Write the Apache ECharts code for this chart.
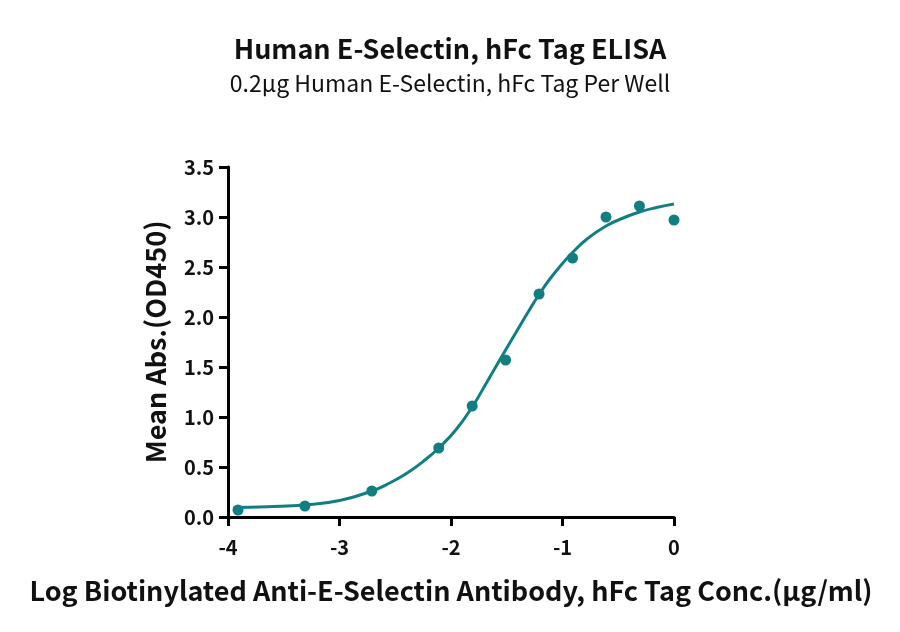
<!DOCTYPE html>
<html>
<head>
<meta charset="utf-8">
<title>Human E-Selectin, hFc Tag ELISA</title>
<script src="https://cdn.jsdelivr.net/npm/echarts@6/dist/echarts.min.js"></script>
<style>
  html, body { margin: 0; padding: 0; background: #fff; }
  #main { width: 900px; height: 632px; }
</style>
</head>
<body>
<div id="main"></div>
<script type="text/javascript">
  // measured points: log concentration vs mean OD450
  var logConc = [-3.91, -3.31, -2.71, -2.11, -1.81, -1.51, -1.21, -0.91, -0.61, -0.31, 0];
  var meanAbs = [0.07, 0.11, 0.26, 0.69, 1.11, 1.57, 2.23, 2.59, 3.00, 3.11, 2.97];

  // fitted curve
  var fitX = [-3.95, -3.65, -3.31, -3.0, -2.71, -2.55, -2.4, -2.25, -2.1, -1.95, -1.81, -1.68, -1.55, -1.42, -1.3, -1.21, -1.11, -1.0, -0.91, -0.78, -0.61, -0.455, -0.31, -0.157, 0];
  var fitY = [0.094, 0.103, 0.12, 0.165, 0.26, 0.34, 0.435, 0.555, 0.70, 0.88, 1.10, 1.345, 1.595, 1.84, 2.065, 2.225, 2.385, 2.535, 2.645, 2.78, 2.91, 2.99, 3.05, 3.095, 3.13];

  var xTicks = [-4, -3, -2, -1, 0];
  var yTicks = [0, 0.5, 1, 1.5, 2, 2.5, 3, 3.5];

  var teal = '#117f82';
  var font = '"Noto Sans CJK SC", "Noto Sans", sans-serif';

  function pairs(xs, ys) {
    return xs.map(function (x, i) { return [x, ys[i]]; });
  }

  var myChart = echarts.init(document.getElementById('main'));
  var option = {
    backgroundColor: '#fff',
    animation: false,
    textStyle: { fontFamily: font },
    title: {
      text: 'Human E-Selectin, hFc Tag ELISA',
      subtext: '0.2\u00b5g Human E-Selectin, hFc Tag Per Well',
      left: 'center',
      top: 30,
      itemGap: 10,
      textStyle: { fontFamily: font, fontSize: 27, fontWeight: 'bold', color: '#111' },
      subtextStyle: { fontFamily: font, fontSize: 23, color: '#111' }
    },
    grid: { left: 228, right: 226, top: 167, bottom: 115 },
    xAxis: {
      type: 'value',
      min: -4, max: 0, interval: 1,
      name: 'Log Biotinylated Anti-E-Selectin Antibody, hFc Tag Conc.(\u00b5g/ml)',
      nameLocation: 'middle',
      nameGap: 60,
      nameTextStyle: { fontFamily: font, fontSize: 27, fontWeight: 'bold', color: '#111' },
      splitLine: { show: false },
      axisLine: { onZero: false, lineStyle: { color: '#000', width: 3 } },
      axisTick: { length: 9, lineStyle: { color: '#000', width: 3 } },
      axisLabel: {
        margin: 20, fontSize: 20, fontWeight: 'bold', color: '#111',
        formatter: function (v) { return xTicks.indexOf(v) >= 0 ? String(v) : ''; }
      }
    },
    yAxis: {
      type: 'value',
      min: 0, max: 3.5, interval: 0.5,
      name: 'Mean Abs.(OD450)',
      nameLocation: 'middle',
      nameGap: 59,
      nameTextStyle: { fontFamily: font, fontSize: 27, fontWeight: 'bold', color: '#111' },
      splitLine: { show: false },
      axisLine: { show: true, onZero: false, lineStyle: { color: '#000', width: 3 } },
      axisTick: { show: true, length: 9, lineStyle: { color: '#000', width: 3 } },
      axisLabel: {
        margin: 14, fontSize: 20, fontWeight: 'bold', color: '#111',
        formatter: function (v) { return yTicks.indexOf(v) >= 0 ? v.toFixed(1) : ''; }
      }
    },
    series: [
      {
        type: 'line',
        data: pairs(fitX, fitY),
        smooth: true,
        showSymbol: false,
        lineStyle: { color: teal, width: 3 },
        z: 2
      },
      {
        type: 'scatter',
        data: pairs(logConc, meanAbs),
        symbolSize: 11,
        itemStyle: { color: teal, opacity: 1 },
        z: 3
      }
    ]
  };
  myChart.setOption(option);
</script>
</body>
</html>
